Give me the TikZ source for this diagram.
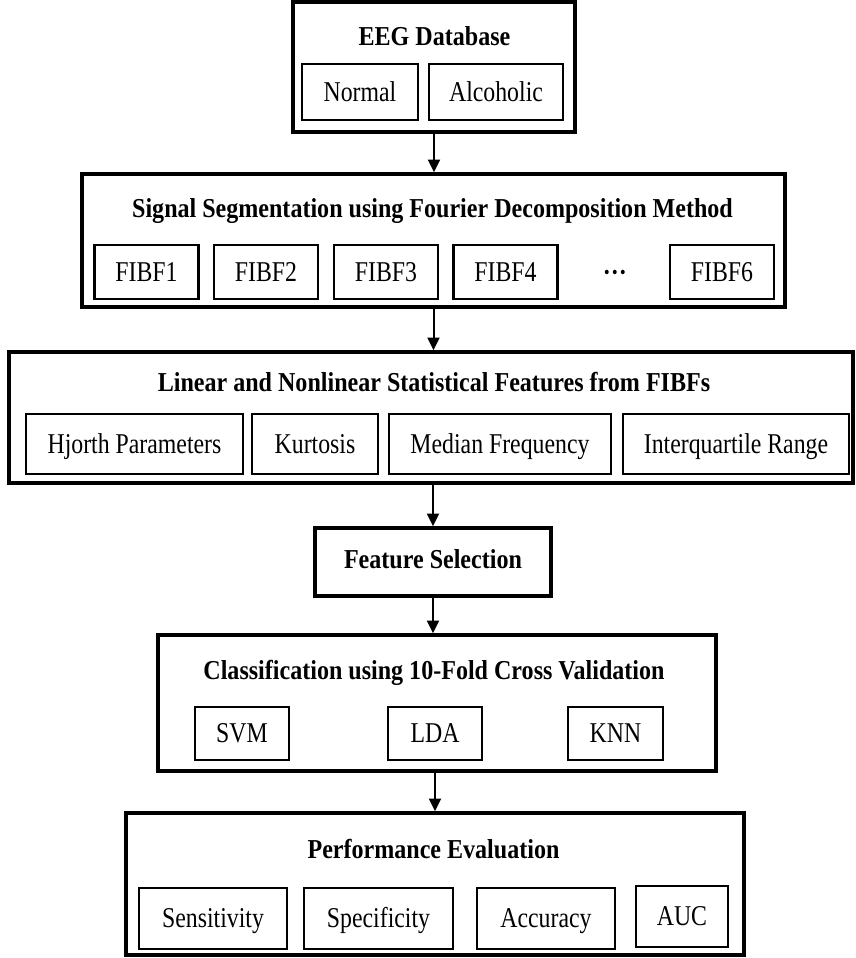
\documentclass[tikz,border=0pt]{standalone}
\usepackage{fontspec}
\setmainfont{Liberation Serif}[FakeStretch=0.83]
\newfontfamily\titleFont{Liberation Serif}[FakeStretch=0.88]
\usetikzlibrary{arrows.meta}

\begin{document}
\begin{tikzpicture}[x=0.75pt, y=-0.75pt,
    boxSize/.style 2 args={minimum width=#1*0.75pt, minimum height=#2*0.75pt},
    outerBox/.style={draw, line width=2.7pt, inner sep=0pt},
    innerBox/.style={draw, line width=1.7pt, inner sep=0pt,
      font=\fontsize{21.5}{25}\selectfont, text height=14.2pt, text depth=0pt},
    titleText/.style={anchor=base, inner sep=0pt, font=\titleFont\fontsize{20.5}{25}\selectfont\bfseries},
    flowArrow/.style={line width=1.5pt, -{Triangle[length=9.5pt, width=9pt]}}]
      \useasboundingbox (0,0) rectangle (856,958);

      % EEG database
      \node[outerBox, boxSize={282}{130}] (db) at (434,67) {};
      \node[titleText] (dbTitle) at (434.5,45) {EEG Database};
      \node[innerBox, boxSize={116}{56}] (normal) at (360,92) {Normal};
      \node[innerBox, boxSize={134}{56}] (alcoholic) at (496,92) {Alcoholic};

      % Segmentation into FIBFs
      \node[outerBox, boxSize={703}{133}] (seg) at (433.5,240.5) {};
      \node[titleText] (segTitle) at (432.5,217) {Signal Segmentation using Fourier Decomposition Method};
      \foreach \i/\x in {1/146.5, 2/266, 3/386, 4/505.5, 6/722}
        \node[innerBox, boxSize={104}{54}] (fibf\i) at (\x,272) {FIBF\i};
      \node[titleText] (fibfDots) at (615,281) {···};

      % Features
      \node[outerBox, boxSize={844}{131}] (feat) at (431,417.5) {};
      \node[titleText] (featTitle) at (434,391) {Linear and Nonlinear Statistical Features from FIBFs};
      \node[innerBox, boxSize={217}{60}] (hjorth) at (134.5,444) {Hjorth Parameters};
      \node[innerBox, boxSize={126}{60}] (kurtosis) at (315,444) {Kurtosis};
      \node[innerBox, boxSize={222}{60}] (median) at (500,444) {Median Frequency};
      \node[innerBox, boxSize={226}{60}] (iqr) at (736,444) {Interquartile Range};

      % Feature selection
      \node[outerBox, boxSize={236}{68}] (sel) at (433,562) {};
      \node[titleText] (selTitle) at (433,568) {Feature Selection};

      % Classifiers
      \node[outerBox, boxSize={558}{136}] (cls) at (437,703) {};
      \node[titleText] (clsTitle) at (434,679) {Classification using 10-Fold Cross Validation};
      \node[innerBox, boxSize={94}{53}] (svm) at (242,733.5) {SVM};
      \node[innerBox, boxSize={94}{53}] (lda) at (435,733.5) {LDA};
      \node[innerBox, boxSize={95}{53}] (knn) at (615.5,733.5) {KNN};

      % Evaluation
      \node[outerBox, boxSize={618}{142}] (perf) at (435,884) {};
      \node[titleText] (perfTitle) at (433.5,858) {Performance Evaluation};
      \node[innerBox, boxSize={148}{61}] (sens) at (213,918.5) {Sensitivity};
      \node[innerBox, boxSize={149}{61}] (spec) at (378.5,918.5) {Specificity};
      \node[innerBox, boxSize={138}{61}] (acc) at (546,918.5) {Accuracy};
      \node[innerBox, boxSize={92}{61}] (auc) at (682,916.5) {AUC};

      % Flow arrows
      \draw[flowArrow] (db.south) -- (db.south |- seg.north);
      \draw[flowArrow] (seg.south) -- (seg.south |- feat.north);
      \draw[flowArrow] (sel.north |- feat.south) -- (sel.north);
      \draw[flowArrow] (sel.south) -- (sel.south |- cls.north);
      \draw[flowArrow] (perf.north |- cls.south) -- (perf.north);
    \end{tikzpicture}
\end{document}
